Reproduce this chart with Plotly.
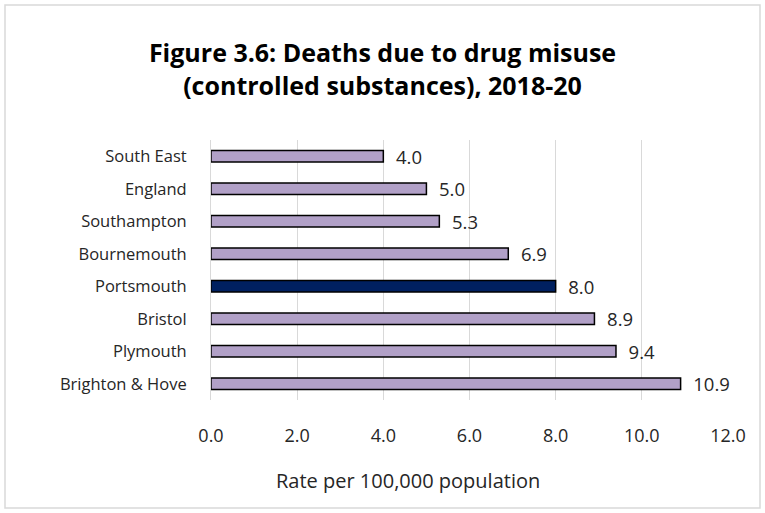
import plotly.graph_objects as go

areas = ["South East", "England", "Southampton", "Bournemouth", "Portsmouth", "Bristol", "Plymouth", "Brighton & Hove"]
rates = [4.0, 5.0, 5.3, 6.9, 8.0, 8.9, 9.4, 10.9]
highlight = "Portsmouth"
x_ticks = [0, 2, 4, 6, 8, 10, 12]

W, H = 765, 513
ml, mr, mt, mb = 211, 37, 140, 113
pw, ph = W - ml - mr, H - mt - mb

colors = ["#002060" if a == highlight else "#B1A0C7" for a in areas]

fig = go.Figure(go.Bar(
    y=areas, x=rates, orientation="h",
    marker=dict(color=colors, line=dict(color="black", width=1.5)),
    width=0.36,
    text=[f"  {v:.1f}" for v in rates], textposition="outside",
    constraintext="none",
    textfont=dict(size=18.5, color="#262626", family="Open Sans"),
    cliponaxis=False,
))

def px_x(p):
    return (p - ml) / pw

def px_y(p):
    return 1 - (p - mt) / ph

fig.update_layout(
    width=W, height=H,
    margin=dict(l=ml, r=mr, t=mt, b=mb),
    paper_bgcolor="white", plot_bgcolor="white",
    font=dict(family="Open Sans", size=16, color="#262626"),
    title=dict(text="<b>Figure 3.6: Deaths due to drug misuse<br>(controlled substances), 2018-20</b>",
               x=0.5, xanchor="center", y=1 - 62 / H, yanchor="middle",
               font=dict(size=25, color="black", family="Open Sans")),
    xaxis=dict(range=[0, 12], tickvals=x_ticks, ticktext=[f"{v:.1f}" for v in x_ticks],
               showgrid=True, gridcolor="#D9D9D9", gridwidth=1, zeroline=False,
               ticks="", ticklabelstandoff=23, tickfont=dict(size=18)),
    yaxis=dict(autorange="reversed", showgrid=False, ticks="", ticklabelstandoff=20,
               showline=True, linecolor="#D9D9D9", linewidth=1, tickfont=dict(size=16.5)),
    showlegend=False,
    annotations=[dict(text="Rate per 100,000 population", xref="paper", yref="paper",
                      x=px_x(408), y=px_y(480), xanchor="center", yanchor="middle",
                      showarrow=False, font=dict(size=20, color="#262626"))],
    shapes=[dict(type="rect", xref="paper", yref="paper",
                 x0=px_x(5), x1=px_x(W - 5), y0=px_y(H - 5), y1=px_y(5),
                 line=dict(color="#D9D9D9", width=1.5), fillcolor="rgba(0,0,0,0)", layer="below")],
)

fig.write_html("out.html")
